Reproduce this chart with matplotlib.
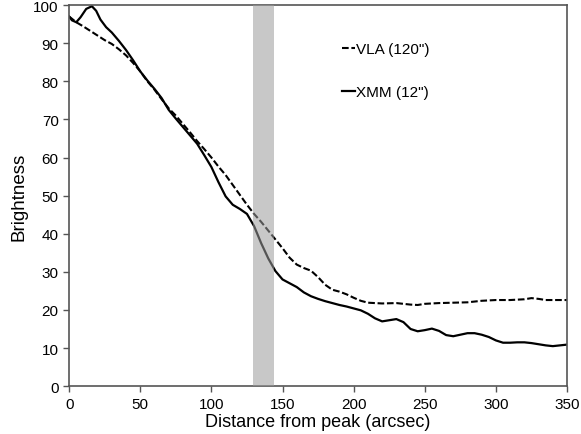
import matplotlib
matplotlib.use("Agg")
import matplotlib.pyplot as plt

plt.rcParams['font.family'] = ['Liberation Sans', 'DejaVu Sans']

# XMM (12") profile
xmm_x = [0, 2, 5, 8, 12, 16, 19, 22, 26, 30, 35, 40, 45, 50, 55, 60, 65, 70, 75, 80,
         85, 90, 95, 100, 105, 110, 115, 120, 125, 130, 135, 140, 145, 150, 155, 160,
         165, 170, 175, 180, 185, 190, 195, 200, 205, 210, 215, 220, 225, 230, 235,
         240, 245, 250, 255, 260, 265, 270, 275, 280, 285, 290, 295, 300, 305, 310,
         315, 320, 325, 330, 335, 340, 345, 350]
xmm_y = [97.0, 96.0, 95.5, 96.8, 99.0, 99.7, 98.5, 96.2, 94.2, 92.8, 90.6, 88.2, 85.5,
         82.6, 80.2, 78.0, 75.6, 72.5, 70.2, 68.0, 65.8, 63.6, 60.6, 57.5, 53.5, 49.8,
         47.6, 46.5, 45.2, 42.0, 37.5, 33.5, 30.2, 28.0, 27.0, 26.0, 24.6, 23.6, 22.9,
         22.3, 21.8, 21.3, 20.9, 20.4, 19.9, 19.0, 17.8, 17.0, 17.3, 17.6, 16.8, 15.0,
         14.4, 14.7, 15.1, 14.5, 13.4, 13.1, 13.5, 13.9, 13.9, 13.5, 12.9, 12.0, 11.4,
         11.4, 11.5, 11.5, 11.3, 11.0, 10.7, 10.5, 10.7, 10.9]

# VLA (120") profile
vla_x = [0, 5, 10, 15, 20, 25, 30, 35, 40, 45, 50, 55, 60, 65, 70, 75, 80, 85, 90, 95,
         100, 105, 110, 115, 120, 125, 130, 135, 140, 145, 150, 155, 160, 165, 170, 175,
         180, 185, 190, 195, 200, 205, 210, 220, 230, 240, 245, 250, 260, 270, 280, 290,
         300, 310, 320, 325, 330, 335, 340, 350]
vla_y = [97.0, 95.5, 94.4, 93.2, 92.0, 90.8, 89.8, 88.4, 86.8, 84.8, 82.6, 80.0, 77.8,
         75.3, 72.9, 71.0, 68.8, 66.6, 64.3, 62.2, 60.0, 57.6, 55.4, 52.8, 50.2, 47.6,
         45.2, 43.1, 40.8, 38.5, 36.2, 33.7, 31.9, 31.0, 30.3, 28.6, 26.6, 25.3, 24.8,
         24.1, 23.2, 22.4, 21.9, 21.7, 21.8, 21.4, 21.3, 21.6, 21.8, 21.9, 22.0, 22.4,
         22.6, 22.6, 22.8, 23.1, 22.9, 22.6, 22.6, 22.6]

band = (129, 144)

x_ticks = [0, 50, 100, 150, 200, 250, 300, 350]
y_ticks = [0, 10, 20, 30, 40, 50, 60, 70, 80, 90, 100]

fig, ax = plt.subplots(figsize=(5.81, 4.35), dpi=100)
fig.subplots_adjust(left=0.119, right=0.976, top=0.986, bottom=0.110)

ax.plot(vla_x, vla_y, color='black', lw=1.5, dashes=(3.2, 1.3), label='VLA (120")')
ax.plot(xmm_x, xmm_y, color='black', lw=1.6, label='XMM (12")')
ax.axvspan(band[0], band[1], color='#9b9b9b', alpha=0.55, lw=0, zorder=3)

ax.set_xlim(0, 350)
ax.set_ylim(0, 100)
ax.set_xticks(x_ticks)
ax.set_yticks(y_ticks)
ax.tick_params(direction='out', length=4, width=1, color='#555555', labelsize=11)
for s in ax.spines.values():
    s.set_color('#555555')
    s.set_linewidth(1.2)

ax.set_xlabel('Distance from peak (arcsec)', fontsize=13, labelpad=2)
ax.set_ylabel('Brightness', fontsize=13.5, labelpad=4)

ax.legend(loc='upper left', bbox_to_anchor=(0.52, 0.938), frameon=False, fontsize=11,
          handlelength=0.85, handletextpad=0.1, labelspacing=1.9)

fig.savefig('out.png', dpi=100)
